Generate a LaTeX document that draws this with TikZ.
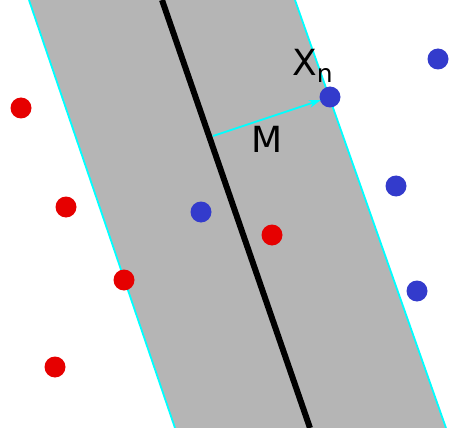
\documentclass[tikz,border=0pt]{standalone}
\usepackage{fontspec}
\setmainfont{DejaVu Sans}
\usetikzlibrary{arrows.meta}
\definecolor{bandgrey}{HTML}{B5B5B5}
\definecolor{dotred}{HTML}{E60000}
\definecolor{dotblue}{HTML}{333BCC}
\definecolor{edgecyan}{RGB}{0,255,255}
\begin{document}
\begin{tikzpicture}[x=1pt,y=-1pt,
  reddot/.style={circle,fill=dotred,inner sep=0pt,minimum size=21pt},
  bluedot/.style={circle,fill=dotblue,inner sep=0pt,minimum size=21pt},
  edge/.style={edgecyan,line width=1.8pt},
  lbl/.style={inner sep=0pt,font=\fontsize{36}{40}\selectfont}]
\useasboundingbox (0,0) rectangle (472,428);
\coordinate (lt) at (29,0);
\coordinate (lb) at (175,428);
\coordinate (rt) at (295,0);
\coordinate (rb) at (446,428);
\coordinate (ct) at (162,0);
\coordinate (cb) at (310,428);
\fill[bandgrey] (lt) -- (rt) -- (rb) -- (lb) -- cycle;
\draw[edge] (lt) -- (lb);
\draw[edge] (rt) -- (rb);
\draw[black,line width=6pt] (ct) -- (cb);
\node[reddot] (r1) at (21,108) {};
\node[reddot] (r2) at (66,207) {};
\node[reddot] (r3) at (124,280) {};
\node[reddot] (r4) at (55,367) {};
\node[reddot] (r5) at (272,235) {};
\node[bluedot] (b1) at (438,59) {};
\node[bluedot] (b2) at (330,97) {};
\node[bluedot] (b3) at (396,186) {};
\node[bluedot] (b4) at (201,212) {};
\node[bluedot] (b5) at (417,291) {};
\coordinate (m0) at (213,136);
\draw[edgecyan,line width=1.8pt,-{Stealth[length=12pt,width=8pt]},shorten >=-1pt] (m0) -- (b2);
\node[lbl,anchor=base west] (xn) at (292,76) {X\raisebox{-7pt}{\fontsize{25}{28}\selectfont n}};
\node[lbl,anchor=base] (mm) at (267,153) {M};
\end{tikzpicture}
\end{document}
